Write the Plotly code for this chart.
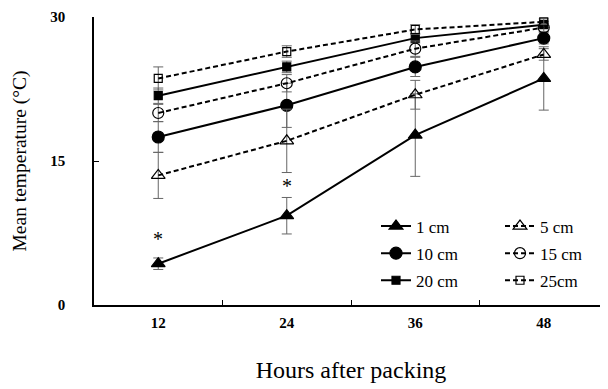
import plotly.graph_objects as go

hours = ["12", "24", "36", "48"]

names = ["1 cm", "10 cm", "20 cm", "5 cm", "15 cm", "25cm"]
t1 = [4.3, 9.3, 17.7, 23.6]
t10 = [17.5, 20.8, 24.8, 27.8]
t20 = [21.8, 24.8, 27.8, 29.2]
t5 = [13.5, 17.1, 21.9, 26.1]
t15 = [20.0, 23.1, 26.7, 28.9]
t25 = [23.6, 26.4, 28.7, 29.5]
e1 = [0.6, 1.9, 4.3, 3.3]
e10 = [1.6, 2.3, 1.0, 0.6]
e20 = [0.8, 0.6, 0.5, 0.3]
e5 = [2.4, 3.3, 1.5, 0.6]
e15 = [0.9, 0.9, 0.8, 0.4]
e25 = [1.2, 0.6, 0.5, 0.3]

star_x = ["12", "24"]
star_y = [6.9, 12.4]

series = [
    (names[0], t1, e1, "triangle-up", "solid", 12, "legend"),
    (names[1], t10, e10, "circle", "solid", 12, "legend"),
    (names[2], t20, e20, "square", "solid", 8, "legend"),
    (names[3], t5, e5, "triangle-up-open", "5px,3px", 12, "legend2"),
    (names[4], t15, e15, "circle-open", "5px,3px", 11, "legend2"),
    (names[5], t25, e25, "square-open", "5px,3px", 8, "legend2"),
]

fig = go.Figure()
for name, vals, errs, sym, dash, size, leg in series:
    fig.add_trace(go.Scatter(
        x=hours, y=vals, name=name, mode="lines+markers",
        line=dict(color="black", width=2, dash=dash),
        marker=dict(symbol=sym, size=size, color="black",
                    line=dict(color="black", width=1.2)),
        error_y=dict(type="data", array=errs, visible=True,
                     color="#666666", thickness=1, width=5),
        legend=leg, legendgroup=name,
    ))

for sx, sy in zip(star_x, star_y):
    fig.add_annotation(x=hours.index(sx), y=sy, text="*", showarrow=False,
                       font=dict(family="Liberation Serif", size=20, color="#000000"))

serif = "Liberation Serif, Times New Roman, serif"
fig.update_layout(
    width=608, height=389,
    margin=dict(l=86, r=8, t=9, b=92, autoexpand=False),
    plot_bgcolor="white", paper_bgcolor="white",
    font=dict(family=serif, color="black"),
    showlegend=True,
    legend=dict(x=(376 - 94) / 514, y=0.335, xanchor="left", yanchor="top",
                bgcolor="rgba(0,0,0,0)", font=dict(family=serif, size=17),
                tracegroupgap=2, itemwidth=30),
    legend2=dict(x=(500 - 94) / 514, y=0.335, xanchor="left", yanchor="top",
                 bgcolor="rgba(0,0,0,0)", font=dict(family=serif, size=17),
                 tracegroupgap=2, itemwidth=30),
    xaxis=dict(
        type="category", range=[-0.5, 3.5], showline=True, linecolor="black",
        linewidth=1.5, ticks="inside", tickson="boundaries", ticklen=5,
        tickcolor="black", showgrid=False, zeroline=False, automargin=False,
        tickfont=dict(family=serif, size=15, weight="bold"),
        ticklabelstandoff=3,
        title=dict(text="Hours after packing", font=dict(family=serif, size=24),
                   standoff=31),
    ),
    yaxis=dict(
        range=[0, 30], tickvals=[0, 15, 30], showline=True, linecolor="black",
        linewidth=1.5, ticks="inside", ticklen=5, tickcolor="black",
        showgrid=False, zeroline=False, automargin=False,
        tickfont=dict(family=serif, size=15, weight="bold"),
        ticklabelstandoff=24,
        title=dict(text="Mean temperature (°C)", font=dict(family=serif, size=19.5),
                   standoff=18),
    ),
)

fig.write_html("out.html")
